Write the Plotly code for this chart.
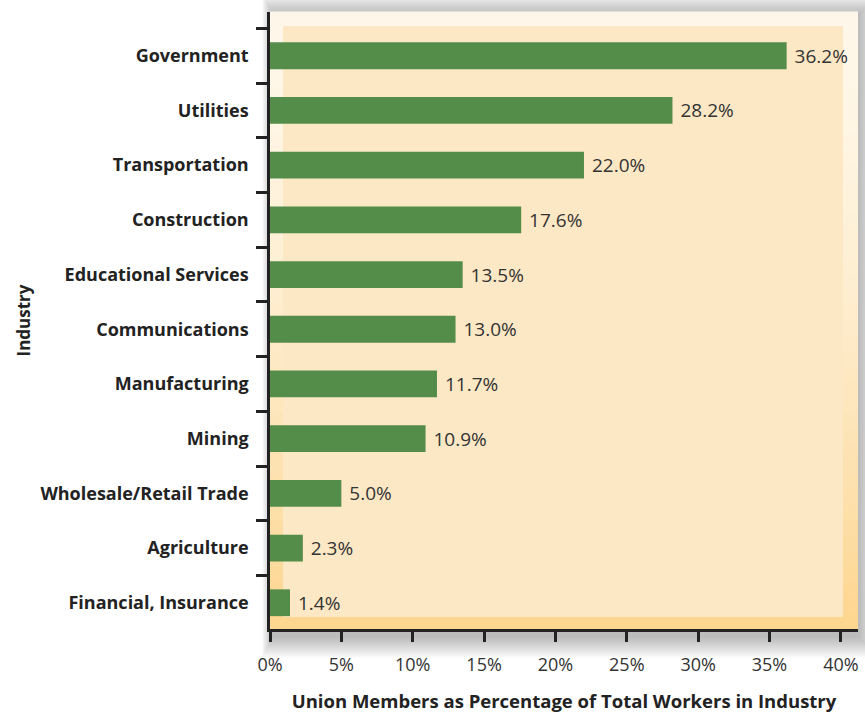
import plotly.graph_objects as go

# Union membership rate by industry (listed top to bottom)
industries = [
    "Government", "Utilities", "Transportation", "Construction",
    "Educational Services", "Communications", "Manufacturing", "Mining",
    "Wholesale/Retail Trade", "Agriculture", "Financial, Insurance",
]
rates = [36.2, 28.2, 22.0, 17.6, 13.5, 13.0, 11.7, 10.9, 5.0, 2.3, 1.4]
x_ticks = [0, 5, 10, 15, 20, 25, 30, 35, 40]
x_tick_labels = [f"{v}%" for v in x_ticks]

W, H = 865, 713
ML, MR, MT, MB = 270, 7, 12, 84
PW, PH = W - ML - MR, H - MT - MB


def px(x):
    return (x - ML) / PW


def py(y):
    return (MT + PH - y) / PH


def hex_mix(c1, c2, t):
    a = [int(c1[i:i + 2], 16) for i in (1, 3, 5)]
    b = [int(c2[i:i + 2], 16) for i in (1, 3, 5)]
    return "#" + "".join(f"{round(a[k] + (b[k] - a[k]) * t):02x}" for k in range(3))


shapes = []

# soft drop shadow behind the panel
n_sh = 12
for i in range(n_sh, 0, -1):
    e = i * 1.8
    dy = 7
    shapes.append(dict(
        type="rect", xref="paper", yref="paper", layer="below",
        x0=px(ML - e * 0.5 + 3), x1=px(ML + PW + e),
        y0=py(MT + PH + e + dy), y1=py(MT - e + dy * 0.4),
        line=dict(width=0), fillcolor="rgba(0,0,0,0.022)",
    ))
# white base so the shadow only shows outside
shapes.append(dict(
    type="rect", xref="paper", yref="paper", layer="below",
    x0=0, x1=1, y0=0, y1=1, line=dict(width=0), fillcolor="#ffffff",
))

# frame with a vertical cream-to-orange gradient
top_c, bot_c = "#fef7e9", "#fdd58e"
n_strips = 40
for i in range(n_strips):
    t0 = i / n_strips
    t1 = (i + 1) / n_strips
    tt = ((i + 0.5) / n_strips) ** 1.6
    shapes.append(dict(
        type="rect", xref="paper", yref="paper", layer="below",
        x0=0, x1=1, y0=1 - t1, y1=1 - t0 + 0.001,
        line=dict(width=0), fillcolor=hex_mix(top_c, bot_c, tt),
    ))

# inner panel
shapes.append(dict(
    type="rect", xref="paper", yref="paper", layer="below",
    x0=px(283), x1=px(843), y0=py(617), y1=py(26),
    line=dict(width=0), fillcolor="#fde8c5",
))

fig = go.Figure(go.Bar(
    x=rates[::-1],
    y=industries[::-1],
    orientation="h",
    width=0.49,
    marker=dict(color="#548d4a", line=dict(width=0)),
    text=[f" {v:.1f}%" for v in rates[::-1]],
    textposition="outside",
    cliponaxis=False,
    textfont=dict(family="Open Sans", size=19, color="#333333"),
))

fig.update_layout(
    width=W, height=H,
    margin=dict(l=ML, r=MR, t=MT, b=MB),
    paper_bgcolor="#ffffff",
    plot_bgcolor="rgba(0,0,0,0)",
    showlegend=False,
    shapes=shapes,
    uniformtext=dict(minsize=19, mode="show"),
    xaxis=dict(
        range=[0, 41.2],
        automargin=False,
        tickvals=x_ticks, ticktext=x_tick_labels,
        showgrid=False, zeroline=False,
        showline=True, linecolor="#222222", linewidth=2.5,
        ticks="outside", ticklen=10, tickwidth=2.5, tickcolor="#222222",
        ticklabelstandoff=8,
        tickfont=dict(family="Open Sans", size=18, color="#333333"),
        title=dict(
            text="Union Members as Percentage of Total Workers in Industry",
            font=dict(family="Open Sans", size=18.5, color="#222222", weight=700),
            standoff=26,
        ),
    ),
    yaxis=dict(
        type="category",
        range=[-0.48, 10.8],
        automargin=False,
        showgrid=False, zeroline=False,
        showline=True, linecolor="#222222", linewidth=2.5,
        ticks="outside", ticklen=11, tickwidth=2.5, tickcolor="#222222",
        tickson="boundaries",
        ticklabelstandoff=15,
        tickfont=dict(family="Open Sans", size=18, color="#222222", weight=700),
        title=dict(
            text="Industry",
            font=dict(family="Open Sans", size=17, color="#222222", weight=700),
            standoff=6,
        ),
    ),
)

fig.write_html("out.html")
